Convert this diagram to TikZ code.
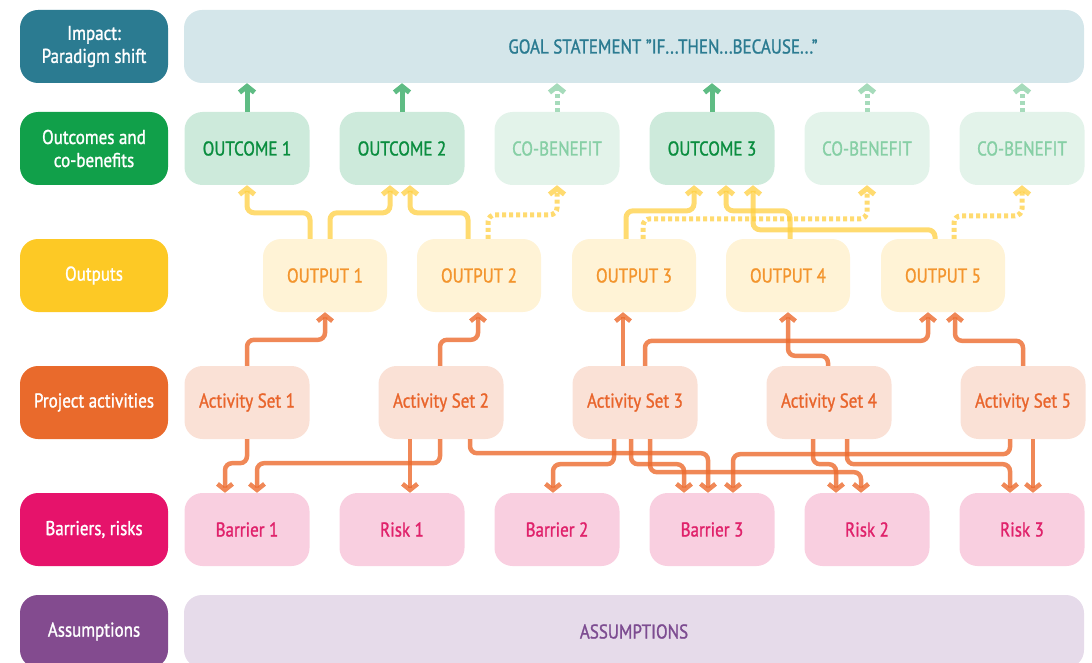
\documentclass[tikz,border=0pt]{standalone}
\usepackage{fontspec}
\setmainfont{PT Sans}[FakeStretch=0.85, FakeBold=1.2]
\usetikzlibrary{arrows.meta}

\definecolor{impactc}{HTML}{2B7B91}
\definecolor{goalfill}{HTML}{D4E6EA}
\definecolor{outcomec}{HTML}{11A04A}
\definecolor{ocfill}{HTML}{CDEADB}
\definecolor{octext}{HTML}{0A8D3F}
\definecolor{cbfill}{HTML}{E3F3EA}
\definecolor{cbtext}{HTML}{86CFA5}
\definecolor{garrc}{HTML}{5FBC84}
\definecolor{gdotc}{HTML}{A6DBBB}
\definecolor{outputc}{HTML}{FDC925}
\definecolor{outfill}{HTML}{FFF3D6}
\definecolor{outtext}{HTML}{F3952E}
\definecolor{yarrc}{HTML}{FFCF40}
\definecolor{activc}{HTML}{E96A2C}
\definecolor{actfill}{HTML}{FAE1D6}
\definecolor{acttext}{HTML}{E9652C}
\definecolor{oarrc}{HTML}{EC6A2D}
\definecolor{barrierc}{HTML}{E6136B}
\definecolor{barfill}{HTML}{F9CFE0}
\definecolor{bartext}{HTML}{E0226B}
\definecolor{assumc}{HTML}{834B8F}
\definecolor{asfill}{HTML}{E6DBEA}
\definecolor{astext}{HTML}{7D4C91}

\tikzset{
  box/.style={rounded corners=18pt, minimum height=73pt, inner sep=0pt,
    font=\fontsize{20}{23}\selectfont, align=center},
  lab/.style={box, minimum width=148pt, text=white},
  wide/.style={box, minimum width=900pt},
  ocbox/.style={box, minimum width=125pt, fill=ocfill, text=octext},
  cbbox/.style={box, minimum width=125pt, fill=cbfill, text=cbtext},
  outbox/.style={box, minimum width=124pt, fill=outfill, text=outtext},
  actbox/.style={box, minimum width=125pt, fill=actfill, text=acttext},
  barbox/.style={box, minimum width=125pt, fill=barfill, text=bartext},
  link/.style={rounded corners=7pt, -{Straight Barb[length=6pt,width=15pt]}},
  garr/.style={link, line width=5pt, draw=garrc},
  gdot/.style={garr, draw=gdotc, dash pattern=on 4pt off 3pt},
  yarr/.style={link, line width=5pt, draw=yarrc, draw opacity=0.75},
  ydot/.style={yarr, dash pattern=on 4pt off 3pt},
  oarr/.style={link, line width=4.5pt, draw=oarrc, draw opacity=0.8},
}

\begin{document}
\begin{tikzpicture}[x=1pt, y=-1pt]
\useasboundingbox (0,0) rectangle (1092,663);

% row labels
\node[lab, fill=impactc] (lImpact) at (94,46.5) {Impact:\\Paradigm shift};
\node[lab, fill=outcomec] (lOutcome) at (94,148.5) {Outcomes and\\co-benefits};
\node[lab, fill=outputc] (lOutput) at (94,275.5) {Outputs};
\node[lab, fill=activc] (lActiv) at (94,402.5) {Project activities};
\node[lab, fill=barrierc] (lBarrier) at (94,529.5) {Barriers, risks};
\node[lab, fill=assumc] (lAssum) at (94,631.5) {Assumptions};

% goal and assumptions
\node[wide, fill=goalfill, text=impactc] (goal) at (634,46.5)
  {\hspace*{58pt}GOAL STATEMENT ''IF...THEN...BECAUSE...''};
\node[wide, fill=asfill, text=astext] (assum) at (634,631.5) {ASSUMPTIONS};

% outcomes and co-benefits
\node[ocbox] (oc1) at (247,148.5) {OUTCOME 1};
\node[ocbox] (oc2) at (402,148.5) {OUTCOME 2};
\node[cbbox] (cb1) at (557,148.5) {CO-BENEFIT};
\node[ocbox] (oc3) at (712,148.5) {OUTCOME 3};
\node[cbbox] (cb2) at (867,148.5) {CO-BENEFIT};
\node[cbbox] (cb3) at (1022,148.5) {CO-BENEFIT};

% outputs
\node[outbox] (out1) at (325,275.5) {OUTPUT 1};
\node[outbox] (out2) at (479,275.5) {OUTPUT 2};
\node[outbox] (out3) at (634,275.5) {OUTPUT 3};
\node[outbox] (out4) at (788,275.5) {OUTPUT 4};
\node[outbox] (out5) at (943,275.5) {OUTPUT 5};

% activities
\node[actbox] (act1) at (247,402.5) {Activity Set 1};
\node[actbox] (act2) at (441,402.5) {Activity Set 2};
\node[actbox] (act3) at (635,402.5) {Activity Set 3};
\node[actbox] (act4) at (829,402.5) {Activity Set 4};
\node[actbox] (act5) at (1023,402.5) {Activity Set 5};

% barriers and risks
\node[barbox] (bar1) at (247,529.5) {Barrier 1};
\node[barbox] (risk1) at (402,529.5) {Risk 1};
\node[barbox] (bar2) at (557,529.5) {Barrier 2};
\node[barbox] (bar3) at (712,529.5) {Barrier 3};
\node[barbox] (risk2) at (867,529.5) {Risk 2};
\node[barbox] (risk3) at (1022,529.5) {Risk 3};

% outcomes -> goal
\foreach \n in {oc1,oc2,oc3}
  \draw[garr] (\n.north) -- (\n.north |- goal.south);
\foreach \n in {cb1,cb2,cb3}
  \draw[gdot] (\n.north) -- (\n.north |- goal.south);

% outputs -> outcomes
\draw[yarr] ([xshift=-15pt]out1.north) -- ++(0,-26) -| (oc1.south);
\draw[yarr] ([xshift=5pt]out1.north) -- ++(0,-26) -| ([xshift=-12pt]oc2.south);
\draw[yarr] ([xshift=-11pt]out2.north) -- ++(0,-26) -| ([xshift=8pt]oc2.south);
\draw[ydot] ([xshift=9pt]out2.north) -- ++(0,-24) -| (cb1.south);
\draw[yarr] ([xshift=-8pt]out3.north) -- ++(0,-28) -| ([xshift=-18pt]oc3.south);
\draw[ydot] ([xshift=9pt]out3.north) -- ++(0,-20) -| (cb2.south);
\draw[yarr] ([xshift=2pt]out4.north) -- ++(0,-28) -| ([xshift=14pt]oc3.south);
\draw[yarr] ([xshift=-8pt]out5.north) -- ++(0,-9) -| ([xshift=41pt]oc3.south);
\draw[ydot] ([xshift=11pt]out5.north) -- ++(0,-23) -| (cb3.south);

% activities -> outputs
\draw[oarr] (act1.north) -- ++(0,-26) -| (out1.south);
\draw[oarr] ([xshift=-1pt]act2.north) -- ++(0,-26) -| ([xshift=-1pt]out2.south);
\draw[oarr] ([xshift=-12pt]act3.north) -- ([xshift=-11pt]out3.south);
\draw[oarr] ([xshift=10pt]act3.north) -- ++(0,-25) -| ([xshift=-15pt]out5.south);
\draw[oarr] ([xshift=-1pt]act4.north) -- ++(0,-10) -| (out4.south);
\draw[oarr] (act5.north) -- ++(0,-25) -| ([xshift=12pt]out5.south);

% activities -> barriers and risks
\draw[oarr] (act1.south) -- ++(0,24) -| ([xshift=-22pt]bar1.north);
\draw[oarr] ([xshift=-1pt]act2.south) -- ++(0,24) -| ([xshift=10pt]bar1.north);
\draw[oarr] ([xshift=-31pt]act2.south) -- ([xshift=8pt]risk1.north);
\draw[oarr] ([xshift=29pt]act2.south) -- ++(0,14) -| ([xshift=-4pt]bar3.north);
\draw[oarr] ([xshift=-21pt]act3.south) -- ++(0,25) -| ([xshift=-4pt]bar2.north);
\draw[oarr] ([xshift=-4pt]act3.south) -- ++(0,25) -| ([xshift=-28pt]bar3.north);
\draw[oarr] ([xshift=15pt]act3.south) -- ++(0,33) -| ([xshift=-6pt]risk2.north);
\draw[oarr] ([xshift=-16pt]act4.south) -- ++(0,25) -| ([xshift=-31pt]risk2.north);
\draw[oarr] ([xshift=18pt]act4.south) -- ++(0,25) -| ([xshift=-12pt]risk3.north);
\draw[oarr] ([xshift=-13pt]act5.south) -- ++(0,15) -| ([xshift=21pt]bar3.north);
\draw[oarr] ([xshift=10pt]act5.south) -- ([xshift=11pt]risk3.north);
\end{tikzpicture}
\end{document}
